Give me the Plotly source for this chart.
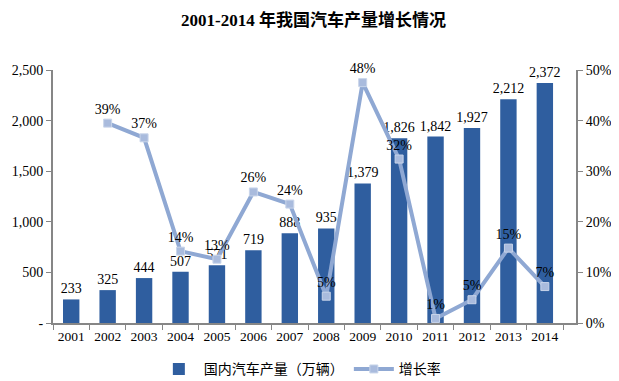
import plotly.graph_objects as go

years = ["2001", "2002", "2003", "2004", "2005", "2006", "2007",
         "2008", "2009", "2010", "2011", "2012", "2013", "2014"]
production = [233, 325, 444, 507, 571, 719, 888, 935, 1379, 1826, 1842, 1927, 2212, 2372]
growth_years = years[1:]
growth = [39.5, 36.6, 14.2, 12.6, 25.9, 23.5, 5.3, 47.5, 32.4, 0.9, 4.6, 14.8, 7.2]
growth_labels = ["39%", "37%", "14%", "13%", "26%", "24%", "5%", "48%", "32%", "1%", "5%", "15%", "7%"]
left_ticks = [0, 500, 1000, 1500, 2000, 2500]
left_tick_text = ["-", "500", "1,000", "1,500", "2,000", "2,500"]
right_ticks = [0, 10, 20, 30, 40, 50]
right_tick_text = ["0%", "10%", "20%", "30%", "40%", "50%"]

serif = "Liberation Serif, Times New Roman, Noto Sans CJK SC, serif"

fig = go.Figure()
fig.add_trace(go.Bar(
    x=years, y=production, name="国内汽车产量（万辆）",
    marker=dict(color="#2F5E9F", line=dict(width=0)),
    width=0.45,
    text=[f"{v:,}" for v in production], textposition="outside",
    constraintext="none",
    textfont=dict(family=serif, size=14, color="#000000"),
    cliponaxis=False,
))
fig.add_trace(go.Scatter(
    x=growth_years, y=growth, name="增长率", yaxis="y2",
    mode="lines+markers+text",
    line=dict(color="#8FA8D3", width=4),
    marker=dict(symbol="square", size=8, color="#A9BBDD", line=dict(color="#C9D5EA", width=1)),
    text=growth_labels, textposition="top center",
    textfont=dict(family=serif, size=14, color="#000000"),
    cliponaxis=False,
))

fig.update_layout(
    width=611, height=373,
    paper_bgcolor="white", plot_bgcolor="white",
    margin=dict(l=45, r=43, t=62, b=58, autoexpand=False),
    title=dict(text="<b>2001-2014 年我国汽车产量增长情况</b>", x=0.5, xanchor="center",
               y=0.968, yanchor="middle",
               font=dict(family=serif, size=17, color="#000000")),
    showlegend=True,
    legend=dict(orientation="h", x=0.472, xanchor="center", y=-0.12, yanchor="top",
                font=dict(family="Noto Sans CJK SC, sans-serif", size=14, color="#000000"),
                itemwidth=40, traceorder="normal"),
    xaxis=dict(type="category", showline=True, linecolor="#868686", linewidth=2,
               ticks="outside", tickson="boundaries", ticklen=5, tickcolor="#868686",
               tickangle=0, automargin=False,
               tickfont=dict(family=serif, size=13.5, color="#000000"), showgrid=False),
    yaxis=dict(range=[0, 2500], tickvals=left_ticks, ticktext=left_tick_text,
               showline=True, linecolor="#868686", linewidth=2, ticks="outside",
               ticklen=5, tickcolor="#868686", showgrid=False, zeroline=False,
               automargin=False,
               tickfont=dict(family=serif, size=14, color="#000000")),
    yaxis2=dict(range=[0, 50], tickvals=right_ticks, ticktext=right_tick_text,
                overlaying="y", side="right", showline=True, linecolor="#868686",
                linewidth=2, ticks="outside", ticklen=5, tickcolor="#868686",
                showgrid=False, zeroline=False, automargin=False,
                tickfont=dict(family=serif, size=14, color="#000000")),
)

fig.write_html("out.html")
